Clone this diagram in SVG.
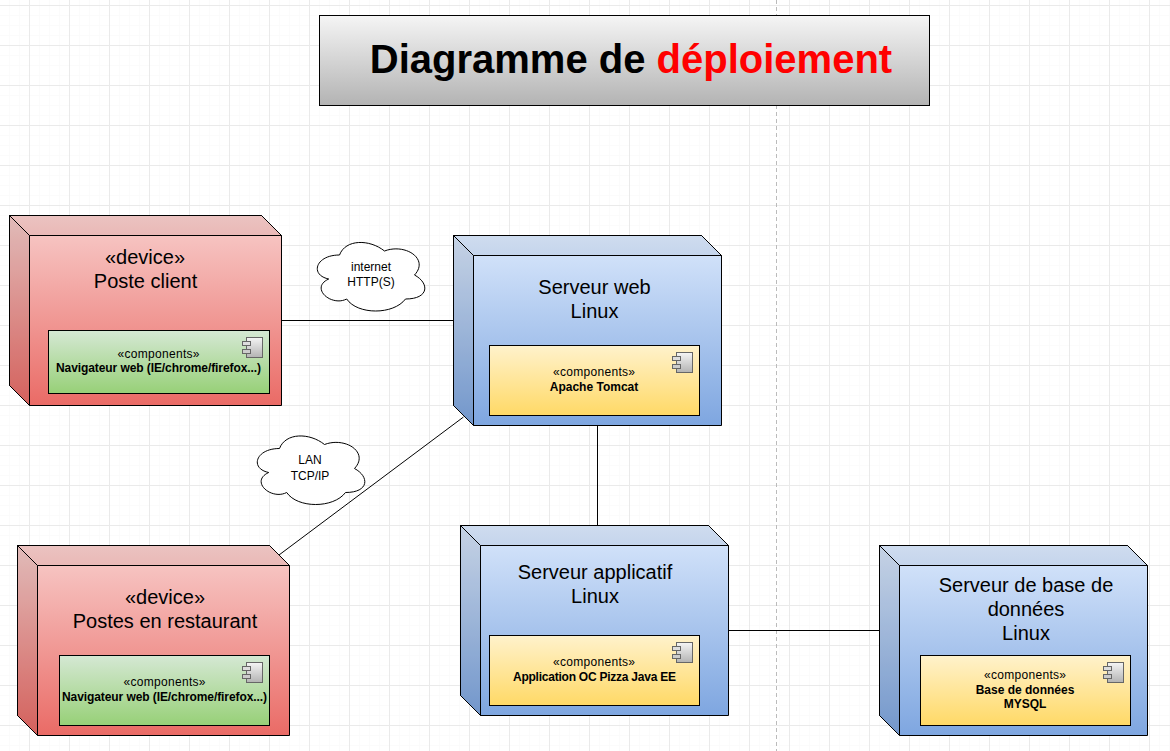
<svg xmlns="http://www.w3.org/2000/svg" xmlns:xlink="http://www.w3.org/1999/xlink" width="1170" height="751" viewBox="0 0 1170 751">
<style>
text{font-family:"Liberation Sans",Arial,sans-serif;fill:#000;text-anchor:middle}
.t{font-size:20px}
.c{font-size:12px}
.b{font-size:12px;font-weight:bold}
.n{stroke:#000;stroke-width:1}
.ot{fill:#000;fill-opacity:.05;stroke:#000}
.ol{fill:#000;fill-opacity:.09;stroke:#000}
.ln{stroke:#000;stroke-width:1;fill:none}
.cl{fill:#fff;stroke:#000;stroke-width:1}
</style>
<defs>
<linearGradient id="gr" x1="0" y1="0" x2="0" y2="1"><stop offset="0" stop-color="#f8cecc"/><stop offset="1" stop-color="#ea6b66"/></linearGradient>
<linearGradient id="gb" x1="0" y1="0" x2="0" y2="1"><stop offset="0" stop-color="#dae8fc"/><stop offset="1" stop-color="#7ea6e0"/></linearGradient>
<linearGradient id="gg" x1="0" y1="0" x2="0" y2="1"><stop offset="0" stop-color="#d5e8d4"/><stop offset="1" stop-color="#97d077"/></linearGradient>
<linearGradient id="gy" x1="0" y1="0" x2="0" y2="1"><stop offset="0" stop-color="#fff2cc"/><stop offset="1" stop-color="#ffd966"/></linearGradient>
<linearGradient id="gs" x1="0" y1="0" x2="0" y2="1"><stop offset="0" stop-color="#f5f5f5"/><stop offset="1" stop-color="#b3b3b3"/></linearGradient>
<pattern id="fine" x="29" y="5" width="10" height="10" patternUnits="userSpaceOnUse"><path d="M0.500 0V10M0 0.500H10" fill="none" stroke="#fbfbfb"/></pattern>
<pattern id="major" x="29" y="5" width="40" height="40" patternUnits="userSpaceOnUse"><path d="M0.500 0V40M0 0.500H40" fill="none" stroke="#eaeaea"/></pattern>
<g id="ic">
<rect x="4" y="0" width="16" height="20" fill="url(#gs)" stroke="#666"/>
<rect x="0" y="4" width="8" height="4" fill="#ddd" stroke="#666"/>
<rect x="0" y="12" width="8" height="4" fill="#ccc" stroke="#666"/>
</g>
<path id="cloud" d="M30 20C6 20 0 40 19.200 44C0 52.800 21.600 72 37.200 64C48 80 84 80 96 64C120 64 120 48 105 40C120 24 96 8 75 16C60 4 36 4 30 20Z"/>
</defs>
<rect width="1170" height="751" fill="#fff"/>
<rect id="grid-fine" width="1170" height="751" fill="url(#fine)"/>
<rect id="grid-major" width="1170" height="751" fill="url(#major)"/>
<path d="M776.500 0V751" stroke="#bbb" stroke-dasharray="4 3" fill="none"/>
<g id="connectors">
<path class="ln" d="M281 320.500H453"/>
<path class="ln" d="M279 555L463.500 417"/>
<path class="ln" d="M597.500 425V525"/>
<path class="ln" d="M728 630.500H879"/>
</g>
<g id="title">
<rect x="319.500" y="15.500" width="610" height="90" fill="url(#gs)" class="n"/>
<text x="631" y="73" style="font-size:40px;font-weight:bold">Diagramme de <tspan fill="#ff0000">déploiement</tspan></text>
</g>
<g id="cloud1"><use xlink:href="#cloud" href="#cloud" x="309.500" y="235" class="cl"/><text x="371" y="271" class="c">internet</text><text x="371" y="286" class="c">HTTP(S)</text></g>
<g id="cloud2"><use xlink:href="#cloud" href="#cloud" x="249.500" y="428.500" class="cl"/><text x="310" y="464" class="c">LAN</text><text x="310" y="480" class="c">TCP/IP</text></g>
<g id="poste-client">
<path d="M9.500 215.500H261.500L281.500 235.500V405.500H29.500L9.500 385.500Z" fill="url(#gr)" class="n"/>
<path d="M9.500 215.500H261.500L281.500 235.500H29.500Z" class="ot"/><path d="M9.500 215.500L29.500 235.500V405.500L9.500 385.500Z" class="ol"/>
<text x="145" y="264" class="t">«device»</text><text x="145.500" y="288" class="t">Poste client</text>
<rect x="48.500" y="330.500" width="221" height="63" fill="url(#gg)" class="n"/>
<use xlink:href="#ic" href="#ic" x="242.500" y="337.500"/>
<text x="158.500" y="358" class="c" textLength="82">«components»</text><text x="158.500" y="372" class="b" textLength="205">Navigateur web (IE/chrome/firefox...)</text>
</g>
<g id="serveur-web">
<path d="M453.500 235.500H701.500L721.500 255.500V425.500H473.500L453.500 405.500Z" fill="url(#gb)" class="n"/>
<path d="M453.500 235.500H701.500L721.500 255.500H473.500Z" class="ot"/><path d="M453.500 235.500L473.500 255.500V425.500L453.500 405.500Z" class="ol"/>
<text x="594.500" y="294" class="t">Serveur web</text><text x="594.500" y="318" class="t">Linux</text>
<rect x="489.500" y="345.500" width="210" height="70" fill="url(#gy)" class="n"/>
<use xlink:href="#ic" href="#ic" x="672.500" y="352.500"/>
<text x="594" y="376" class="c" textLength="82">«components»</text><text x="594" y="391" class="b">Apache Tomcat</text>
</g>
<g id="postes-restaurant">
<path d="M17.500 545.500H269.500L289.500 565.500V735.500H37.500L17.500 715.500Z" fill="url(#gr)" class="n"/>
<path d="M17.500 545.500H269.500L289.500 565.500H37.500Z" class="ot"/><path d="M17.500 545.500L37.500 565.500V735.500L17.500 715.500Z" class="ol"/>
<text x="165" y="604" class="t">«device»</text><text x="165" y="628" class="t">Postes en restaurant</text>
<rect x="59.500" y="655.500" width="210" height="70" fill="url(#gg)" class="n"/>
<use xlink:href="#ic" href="#ic" x="242.500" y="662.500"/>
<text x="164.500" y="686" class="c" textLength="82">«components»</text><text x="164.500" y="701" class="b" textLength="205">Navigateur web (IE/chrome/firefox...)</text>
</g>
<g id="serveur-applicatif">
<path d="M460.500 525.500H708.500L728.500 545.500V715.500H480.500L460.500 695.500Z" fill="url(#gb)" class="n"/>
<path d="M460.500 525.500H708.500L728.500 545.500H480.500Z" class="ot"/><path d="M460.500 525.500L480.500 545.500V715.500L460.500 695.500Z" class="ol"/>
<text x="595" y="579" class="t">Serveur applicatif</text><text x="595" y="603" class="t">Linux</text>
<rect x="489.500" y="635.500" width="210" height="70" fill="url(#gy)" class="n"/>
<use xlink:href="#ic" href="#ic" x="672.500" y="642.500"/>
<text x="594" y="666" class="c" textLength="82">«components»</text><text x="594.500" y="681" class="b" textLength="163">Application OC Pizza Java EE</text>
</g>
<g id="serveur-bdd">
<path d="M879.500 545.500H1127.500L1147.500 565.500V735.500H899.500L879.500 715.500Z" fill="url(#gb)" class="n"/>
<path d="M879.500 545.500H1127.500L1147.500 565.500H899.500Z" class="ot"/><path d="M879.500 545.500L899.500 565.500V735.500L879.500 715.500Z" class="ol"/>
<text x="1026" y="592" class="t">Serveur de base de</text><text x="1026" y="616" class="t">données</text><text x="1026" y="640" class="t">Linux</text>
<rect x="920.500" y="655.500" width="210" height="70" fill="url(#gy)" class="n"/>
<use xlink:href="#ic" href="#ic" x="1103.500" y="662.500"/>
<text x="1025" y="679" class="c" textLength="82">«components»</text><text x="1025" y="694" class="b">Base de données</text><text x="1025" y="708" class="b">MYSQL</text>
</g>
</svg>
